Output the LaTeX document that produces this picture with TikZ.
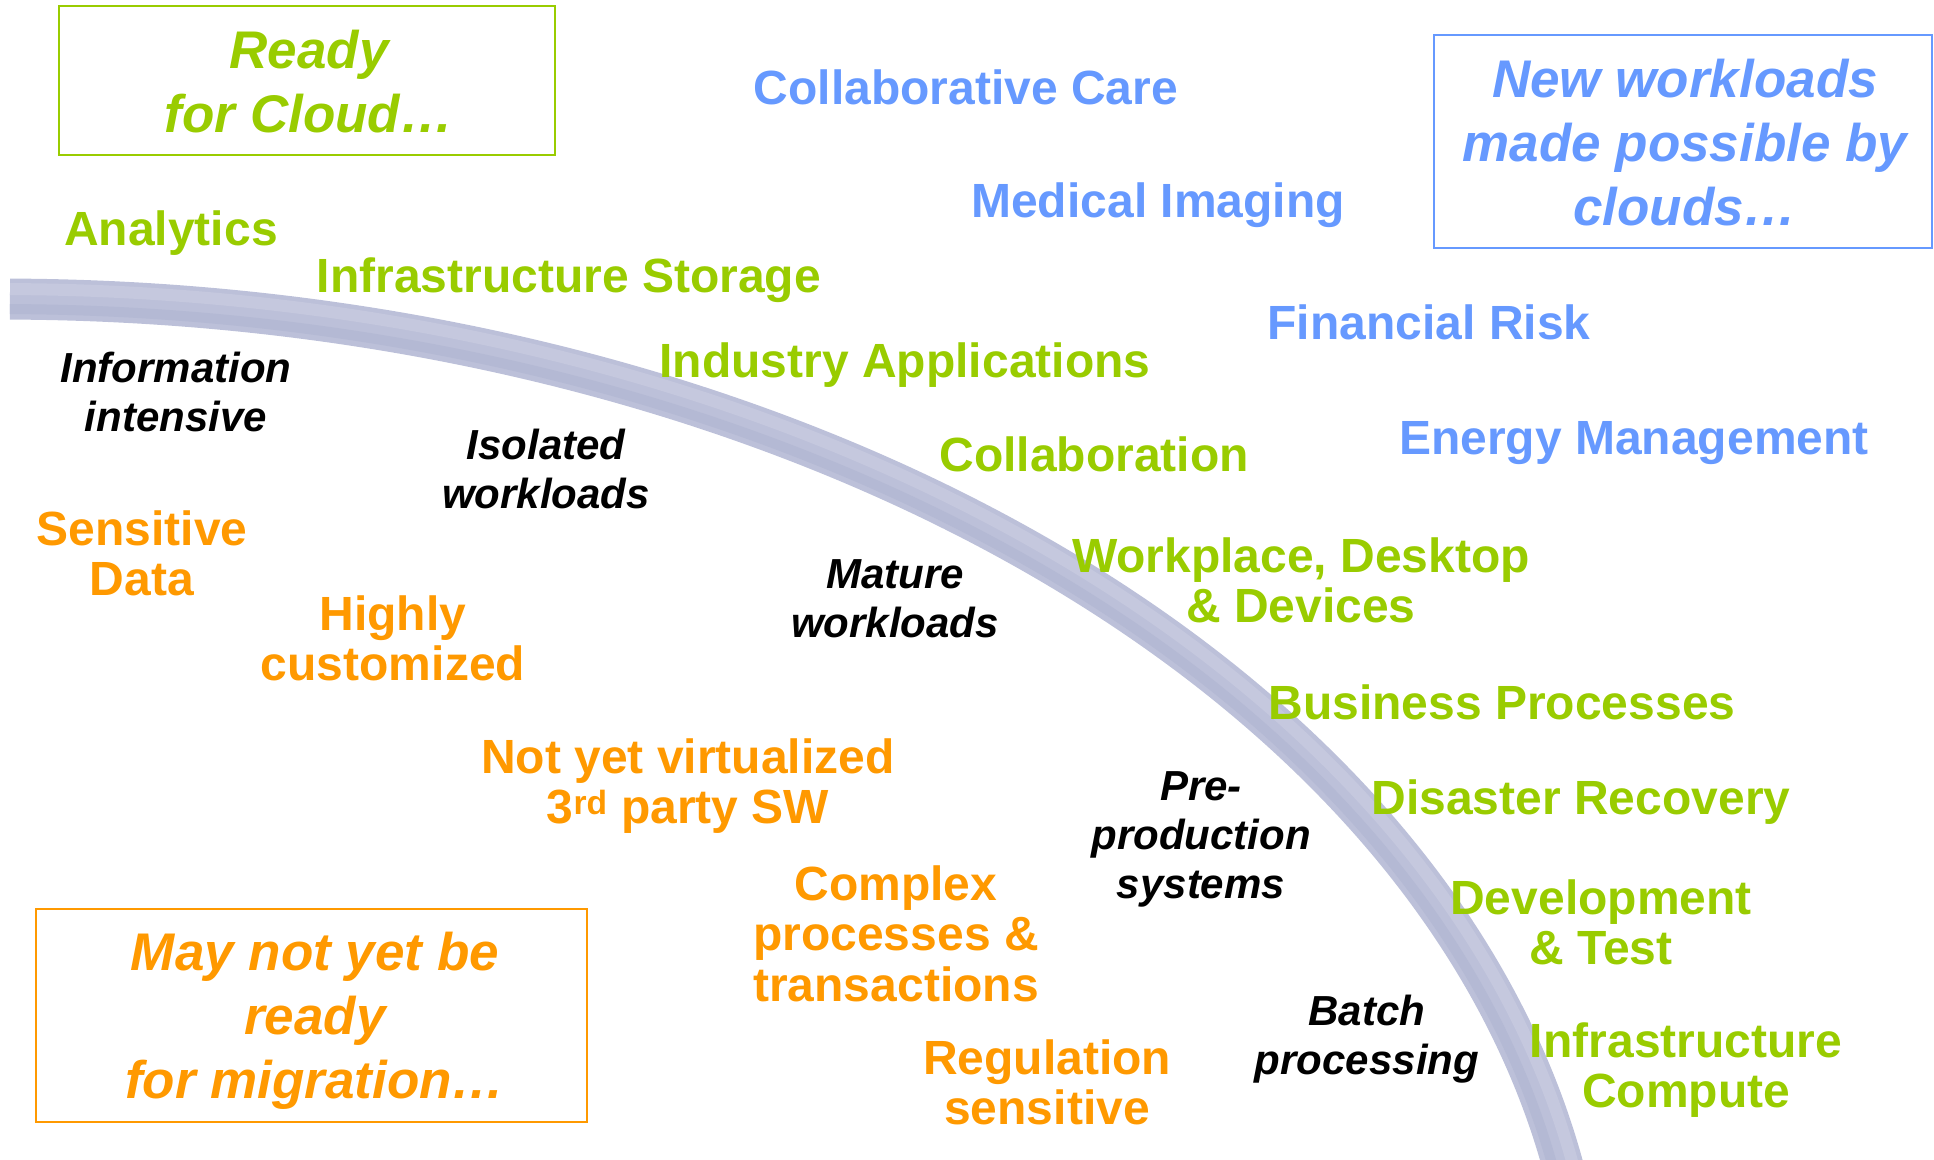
\documentclass[tikz,border=0pt]{standalone}
\usepackage{fontspec}
\setmainfont{Liberation Sans}
\definecolor{cgreen}{HTML}{99CC00}
\definecolor{cblue}{HTML}{6699FF}
\definecolor{corange}{HTML}{FF9900}
\definecolor{bandA}{HTML}{BCC0D9}
\definecolor{bandB}{HTML}{C5C8DE}
\definecolor{bandC}{HTML}{B4B9D4}
\tikzset{
  lbl/.style={anchor=base, align=center, inner sep=0pt, font=\bfseries\fontsize{48}{50.5}\selectfont},
  gr/.style={lbl, text=cgreen},
  bl/.style={lbl, text=cblue},
  orng/.style={lbl, text=corange},
  blk/.style={anchor=base, align=center, inner sep=0pt, text=black, font=\bfseries\itshape\fontsize{42}{49}\selectfont},
  ttl/.style={anchor=base, align=center, inner sep=0pt, font=\bfseries\itshape\fontsize{53}{64}\selectfont},
  framebox/.style={draw, line width=2.5pt, inner sep=0pt},
}
\begin{document}
\begin{tikzpicture}[x=1pt,y=1pt]
\useasboundingbox (0,0) rectangle (1934,-1159);
% band
\coordinate (ec) at (0,-1357);
\draw[bandA, line width=41pt] (ec) ++(89.64:1589 and 1058) arc[start angle=89.64, end angle=5, x radius=1589, y radius=1058];
\draw[bandB, line width=12pt] (ec) ++(89.64:1599 and 1068) arc[start angle=89.64, end angle=5, x radius=1599, y radius=1068];
\draw[bandC, line width=10pt] (ec) ++(89.64:1579 and 1048) arc[start angle=89.64, end angle=5, x radius=1579, y radius=1048];
% boxes
\node[framebox, cgreen, minimum width=496pt, minimum height=149pt] (readybox) at (307,-80.5) {};
\node[framebox, cblue, minimum width=498pt, minimum height=213pt] (newbox) at (1683,-141.5) {};
\node[framebox, corange, minimum width=551pt, minimum height=213pt] (maybox) at (311.5,-1015.5) {};
\node[ttl, text=cgreen] (ready) at (309,-132) {Ready\\for Cloud…};
\node[ttl, text=cblue] (neww) at (1685,-225) {New workloads\\made possible by\\clouds…};
\node[ttl, text=corange] (maynot) at (315,-1098) {May not yet be\\ready\\for migration…};
% green
\node[gr] (analytics) at (171,-245) {Analytics};
\node[gr] (infstor) at (569,-292) {Infrastructure Storage};
\node[gr] (indapp) at (905,-377) {Industry Applications};
\node[gr] (collab) at (1094,-471) {Collaboration};
\node[gr] (workpl) at (1301,-622.5) {Workplace, Desktop\\\& Devices};
\node[gr] (busproc) at (1502,-719) {Business Processes};
\node[gr] (disrec) at (1581,-814) {Disaster Recovery};
\node[gr] (devtest) at (1601,-964.5) {Development\\\& Test};
\node[gr] (infcomp) at (1686,-1107.5) {Infrastructure\\Compute};
% blue
\node[bl] (colcare) at (966,-104) {Collaborative Care};
\node[bl] (medimg) at (1158,-217) {Medical Imaging};
\node[bl] (finrisk) at (1429,-339) {Financial Risk};
\node[bl] (energy) at (1634,-454) {Energy Management};
% orange
\node[orng] (sensdata) at (142,-595.5) {Sensitive\\Data};
\node[orng] (highly) at (393,-680.5) {Highly\\customized};
\node[orng] (notyet) at (688,-823.5) {Not yet virtualized\\3\textsuperscript{rd} party SW};
\node[orng] (complex) at (896,-1001) {Complex\\processes \&\\transactions};
\node[orng] (regul) at (1047,-1124.5) {Regulation\\sensitive};
% black
\node[blk] (info) at (176,-431) {Information\\intensive};
\node[blk] (isol) at (546,-508) {Isolated\\workloads};
\node[blk] (mature) at (895,-637) {Mature\\workloads};
\node[blk] (preprod) at (1201,-898) {Pre-\\production\\systems};
\node[blk] (batch) at (1367,-1074) {Batch\\processing};
\end{tikzpicture}
\end{document}
